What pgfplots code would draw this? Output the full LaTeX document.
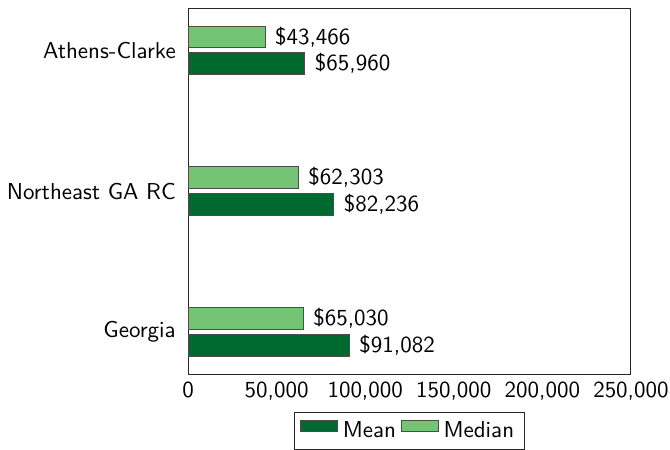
\documentclass[border=0pt]{standalone}
\usepackage{pgfplots}
\pgfplotsset{compat=1.18}
\renewcommand{\familydefault}{\sfdefault}
\definecolor{meangreen}{RGB}{0,105,48}
\definecolor{mediangreen}{RGB}{116,196,118}
\newcommand{\chartfont}{\fontsize{10.35}{12.4}\selectfont}
\begin{document}
\begin{tikzpicture}
\begin{axis}[
  scale only axis,
  width=199.5pt, height=165pt,
  xbar, bar width=9.8pt,
  xmin=0, xmax=250000,
  ymin=-0.3, ymax=2.3,
  ytick={0,1,2},
  yticklabels={Georgia, Northeast GA RC, Athens-Clarke},
  tick label style={font=\chartfont},
  yticklabel style={xshift=-2pt},
  xtick={0,50000,100000,150000,200000,250000},
  scaled x ticks=false,
  /pgf/number format/fixed,
  /pgf/number format/1000 sep={,},
  /pgf/number format/assume math mode=true,
  major tick length=0pt,
  axis line style={black!85},
  point meta=x,
  nodes near coords={\$\pgfmathprintnumber[fixed,1000 sep={,},assume math mode=true]{\pgfplotspointmeta}},
  every node near coord/.append style={font=\chartfont, text=black, xshift=1pt},
  legend columns=-1,
  legend style={at={(0.5,-0.104)}, anchor=north, draw=black!85, font=\chartfont,
    inner xsep=2.8pt,
    /tikz/every even column/.append style={column sep=0.3pt}},
  legend image code/.code={\draw[#1] (0pt,0pt) rectangle (16.7pt,4.8pt);},
  after end axis/.code={
    \coordinate (bl) at (rel axis cs:0,0);
    \coordinate (tr) at (rel axis cs:1,1);
  },
]
\addplot[fill=meangreen, draw=black!70, bar shift=-6pt] coordinates {(91082,0) (82236,1) (65960,2)};
\addplot[fill=mediangreen, draw=black!70, bar shift=6pt] coordinates {(65030,0) (62303,1) (43466,2)};
\legend{Mean, Median}
\end{axis}
\pgfresetboundingbox
\path ([shift={(-84.7pt,-33.8pt)}]bl) rectangle ([shift={(17.6pt,3.6pt)}]tr);
\end{tikzpicture}
\end{document}
